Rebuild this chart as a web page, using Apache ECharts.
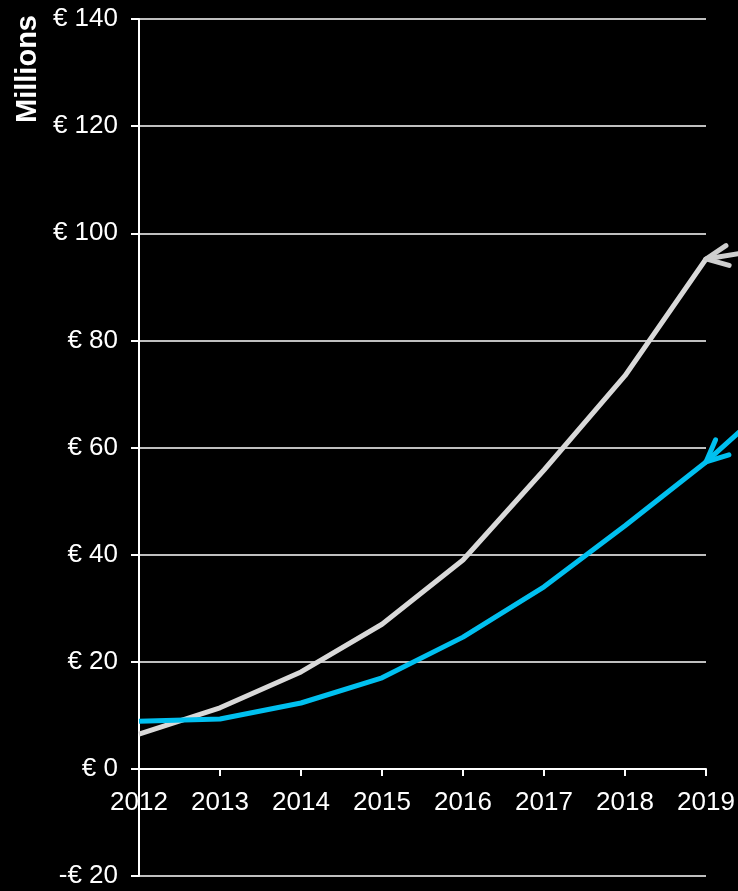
<!DOCTYPE html>
<html><head><meta charset="utf-8">
<style>html,body{margin:0;padding:0;background:#000;}#c{width:738px;height:891px;}</style>
<script src="https://cdn.jsdelivr.net/npm/echarts@6/dist/echarts.min.js"></script>
</head><body><div id="c"></div>
<script>
const years = [2012, 2013, 2014, 2015, 2016, 2017, 2018, 2019];
const grayValues = [6.5, 11.4, 18.1, 27.0, 39.0, 55.8, 73.4, 95.2];
const blueValues = [8.9, 9.3, 12.3, 17.0, 24.6, 34.0, 45.4, 57.3];
const yTicks = [-20, 0, 20, 40, 60, 80, 100, 120, 140];
const yAxisTitle = 'Millions';

const font = '"Liberation Sans", Arial, sans-serif';
const chart = echarts.init(document.getElementById('c'));
const W = 738, H = 891;
const gridBox = {left: 139, right: 32, top: 19, bottom: 15};

chart.setOption({
  backgroundColor: '#000',
  animation: false,
  grid: [Object.assign({containLabel: false, outerBoundsMode: 'none'}, gridBox)],
  xAxis: [{
    type: 'value', gridIndex: 0, min: years[0], max: years[years.length - 1], interval: 1,
    axisLine: {show: false}, axisTick: {show: false}, axisLabel: {show: false}, splitLine: {show: false}
  }],
  yAxis: [{
    type: 'value', gridIndex: 0, min: yTicks[0], max: yTicks[yTicks.length - 1], interval: 20,
    axisLine: {show: true, onZero: false, lineStyle: {color: '#fff', width: 2}},
    axisTick: {show: true, length: 8, lineStyle: {color: '#fff', width: 2}},
    axisLabel: {color: '#fff', fontFamily: font, fontSize: 26, margin: 21,
      formatter: v => (v < 0 ? '-€ ' + Math.abs(v) : '€ ' + v)},
    splitLine: {show: true, lineStyle: {color: '#fff', width: 1.5}}
  }],
  series: [
    {
      type: 'line', data: years.map((y, i) => [y, grayValues[i]]), symbol: 'none', clip: false,
      lineStyle: {color: '#d9d9d9', width: 5}, z: 3
    },
    {
      type: 'line', data: years.map((y, i) => [y, blueValues[i]]), symbol: 'none', clip: false,
      lineStyle: {color: '#00c0f0', width: 5}, z: 4
    }
  ]
});

// year axis drawn on the zero line: a second grid whose bottom edge sits at value 0
const zeroY = chart.convertToPixel({yAxisIndex: 0}, 0);
chart.setOption({
  grid: [{}, {left: gridBox.left, right: gridBox.right, top: gridBox.top, bottom: H - zeroY, containLabel: false, outerBoundsMode: 'none'}],
  xAxis: [{}, {
    type: 'value', gridIndex: 1, min: years[0], max: years[years.length - 1], interval: 1, z: 5,
    axisLine: {show: true, onZero: false, lineStyle: {color: '#fff', width: 2}},
    axisTick: {show: true, length: 7, lineStyle: {color: '#fff', width: 2}},
    axisLabel: {color: '#fff', fontFamily: font, fontSize: 26, margin: 21, formatter: v => String(v)},
    splitLine: {show: false}
  }],
  yAxis: [{}, {type: 'value', gridIndex: 1, min: 0, max: 1, show: false}]
});

// annotation arrows pointing at the last point of each series (tip from the library's scales)
function arrowGraphics(seriesIndex, vals, dir, color) {
  const last = vals.length - 1;
  const tip = chart.convertToPixel({seriesIndex: seriesIndex}, [years[last], vals[last]]);
  const len = Math.hypot(dir[0], dir[1]);
  const ux = dir[0] / len, uy = dir[1] / len;
  const head = 24, ang = 0.43;
  const rot = (a) => [ux * Math.cos(a) - uy * Math.sin(a), ux * Math.sin(a) + uy * Math.cos(a)];
  const r1 = rot(ang), r2 = rot(-ang);
  const style = {stroke: color, lineWidth: 5, lineCap: 'round', lineJoin: 'round', fill: null};
  return [
    {type: 'polyline', silent: true, z: 10, shape: {points: [tip, [tip[0] + ux * 60, tip[1] + uy * 60]]}, style: style},
    {type: 'polyline', silent: true, z: 10, shape: {points: [
      [tip[0] + r1[0] * head, tip[1] + r1[1] * head], tip, [tip[0] + r2[0] * head, tip[1] + r2[1] * head]]}, style: style}
  ];
}

const g = [].concat(
  arrowGraphics(0, grayValues, [31, -5], '#cfcfcf'),
  arrowGraphics(1, blueValues, [31, -28], '#00c0f0'),
  [{
    type: 'text', x: 28, y: 69, rotation: Math.PI / 2,
    style: {text: yAxisTitle, fill: '#fff', font: 'bold 29px ' + font, textAlign: 'center', textVerticalAlign: 'middle'}
  }]
);
chart.setOption({graphic: g});
</script></body></html>
